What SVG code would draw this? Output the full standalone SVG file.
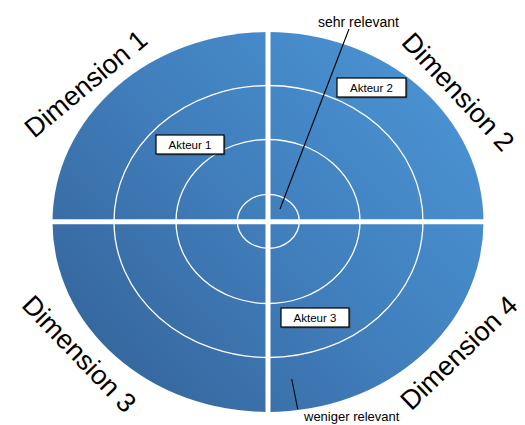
<svg xmlns="http://www.w3.org/2000/svg" width="525" height="425" viewBox="0 0 525 425">
  <defs>
    <linearGradient id="fill" gradientUnits="userSpaceOnUse" x1="110" y1="370" x2="440" y2="70">
      <stop offset="0" stop-color="#36679e"/>
      <stop offset="0.5" stop-color="#417fbd"/>
      <stop offset="1" stop-color="#4a93d3"/>
    </linearGradient>
  </defs>
  <style>
    .ring { fill: none; stroke: #ffffff; stroke-width: 1.3; }
    .gap { stroke: #ffffff; stroke-width: 5; }
    .dim { font-family: "Liberation Sans", Arial, sans-serif; font-size: 27px; fill: #000000; text-anchor: middle; dominant-baseline: central; }
    .box { fill: #ffffff; stroke: #000000; stroke-width: 1.2; }
    .shadow { fill: #333333; opacity: 0.5; }
    .lbl { font-family: "Liberation Sans", Arial, sans-serif; font-size: 11.5px; fill: #000000; text-anchor: middle; }
    .note { font-family: "Liberation Sans", Arial, sans-serif; font-size: 14px; fill: #000000; }
    .lead { stroke: #000000; stroke-width: 1.1; fill: none; }
  </style>

  <g id="target">
    <ellipse cx="268" cy="222" rx="215.5" ry="190" fill="url(#fill)"/>
    <ellipse class="ring" cx="268.5" cy="221.5" rx="154.5" ry="136"/>
    <ellipse class="ring" cx="268" cy="221.5" rx="92" ry="82"/>
    <ellipse class="ring" cx="268.3" cy="221.3" rx="31" ry="27"/>
    <line class="gap" x1="50" y1="221.7" x2="486" y2="221.7"/>
    <line class="gap" x1="268" y1="30" x2="268" y2="414"/>
  </g>

  <g id="dimension-1"><text class="dim" transform="translate(86 84) rotate(-40)">Dimension 1</text></g>
  <g id="dimension-2"><text class="dim" transform="translate(458 92) rotate(47)">Dimension 2</text></g>
  <g id="dimension-3"><text class="dim" transform="translate(79 354) rotate(46)">Dimension 3</text></g>
  <g id="dimension-4"><text class="dim" transform="translate(459 353) rotate(-44)">Dimension 4</text></g>

  <g id="akteur-1">
    <rect class="shadow" x="157.5" y="136.5" width="68" height="19"/>
    <rect class="box" x="156" y="135" width="68" height="19"/>
    <text class="lbl" x="190" y="148.5">Akteur 1</text>
  </g>
  <g id="akteur-2">
    <rect class="shadow" x="338.5" y="79.5" width="69" height="19"/>
    <rect class="box" x="337" y="78" width="69" height="19"/>
    <text class="lbl" x="371.5" y="91.5">Akteur 2</text>
  </g>
  <g id="akteur-3">
    <rect class="shadow" x="282.5" y="309.5" width="68" height="19"/>
    <rect class="box" x="281" y="308" width="68" height="19"/>
    <text class="lbl" x="315" y="321.5">Akteur 3</text>
  </g>

  <g id="sehr-relevant"><text class="note" x="318" y="26.5">sehr relevant</text></g>
  <g id="weniger-relevant"><text class="note" x="304" y="421" style="font-size:13px">weniger relevant</text></g>

  <g id="connectors">
    <line class="lead" x1="349" y1="29" x2="280" y2="209"/>
    <line class="lead" x1="291.7" y1="379" x2="297.7" y2="409"/>
  </g>
</svg>
